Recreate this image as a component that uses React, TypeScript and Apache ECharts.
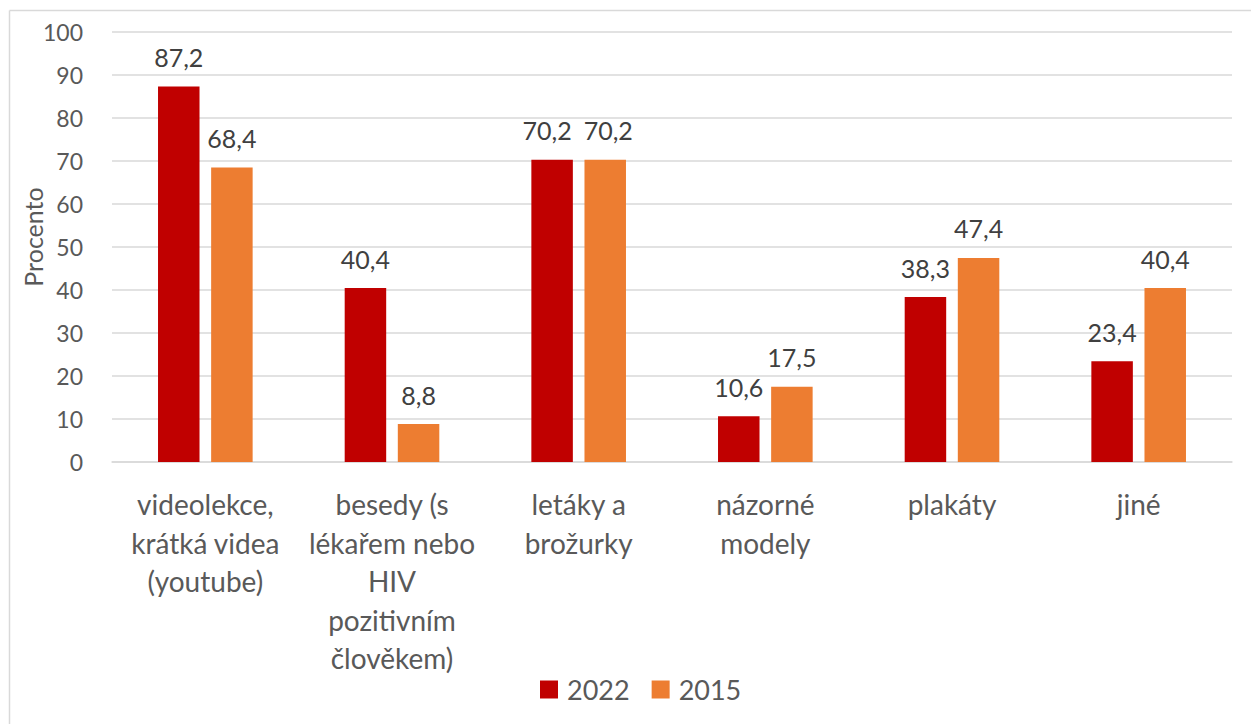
import React, { useEffect, useRef } from "react";
import * as echarts from "echarts";

const categories = [
  "videolekce,\nkrátká videa\n(youtube)",
  "besedy (s\nlékařem nebo\nHIV\npozitivním\nčlověkem)",
  "letáky a\nbrožurky",
  "názorné\nmodely",
  "plakáty",
  "jiné",
];
const series2022 = [87.2, 40.4, 70.2, 10.6, 38.3, 23.4];
const series2015 = [68.4, 8.8, 70.2, 17.5, 47.4, 40.4];
const seriesNames = ["2022", "2015"];
const yTicks = { min: 0, max: 100, interval: 10 };
const yAxisTitle = "Procento";

const FONT = "Lato, 'Open Sans', sans-serif";

export default function App() {
  const ref = useRef<HTMLDivElement>(null);
  useEffect(() => {
    if (!ref.current) return;
    const chart = echarts.init(ref.current, undefined, { renderer: "svg" });
    const labelFmt = (p: any) => String(p.value).replace(".", ",");
    // nudge labels apart where two equal bars sit side by side (as the original does)
    const withNudge = (vals: number[], other: number[], dx: number) =>
      vals.map((v, i) =>
        Math.abs(v - other[i]) < 3 ? { value: v, label: { offset: [dx, 0] } } : v
      );
    const labelStyle = {
      show: true,
      position: "top",
      distance: 17,
      formatter: labelFmt,
      color: "#404040",
      fontSize: 25,
      fontFamily: FONT,
    };
    chart.setOption({
      animation: false,
      backgroundColor: "#ffffff",
      textStyle: { fontFamily: FONT },
      grid: { left: 112, right: 19, top: 31.5, bottom: 262, containLabel: false },
      graphic: [
        { type: "line", shape: { x1: 9.5, y1: 10.5, x2: 1251, y2: 10.5 }, style: { stroke: "#d9d9d9", lineWidth: 1.5 } },
        { type: "line", shape: { x1: 9.5, y1: 10.5, x2: 9.5, y2: 724 }, style: { stroke: "#d9d9d9", lineWidth: 1.5 } },
        {
          type: "text",
          x: 33,
          y: 237,
          rotation: Math.PI / 2,
          style: {
            text: yAxisTitle,
            font: "25px Lato, 'Open Sans', sans-serif",
            fill: "#595959",
            textAlign: "center",
            textVerticalAlign: "middle",
          },
        },
      ],
      legend: {
        data: seriesNames,
        bottom: 16,
        left: 535,
        itemWidth: 18,
        itemHeight: 18,
        itemGap: 22,
        icon: "rect",
        textStyle: { fontSize: 27, color: "#595959", fontFamily: FONT, padding: [0, 0, 0, 4] },
      },
      xAxis: {
        type: "category",
        data: categories,
        axisLine: { lineStyle: { color: "#d9d9d9", width: 1.5 } },
        axisTick: { show: false },
        axisLabel: {
          color: "#595959",
          fontSize: 28,
          lineHeight: 38.5,
          margin: 23,
          interval: 0,
          fontFamily: FONT,
        },
      },
      yAxis: {
        type: "value",
        min: yTicks.min,
        max: yTicks.max,
        interval: yTicks.interval,
        axisLine: { show: false },
        axisTick: { show: false },
        splitLine: { lineStyle: { color: "#d9d9d9", width: 1.5 } },
        axisLabel: { color: "#595959", fontSize: 23, margin: 29, fontFamily: FONT },
      },
      series: [
        {
          name: seriesNames[0],
          type: "bar",
          data: withNudge(series2022, series2015, -5),
          barWidth: 41.5,
          barGap: "28%",
          itemStyle: { color: "#C00000" },
          label: labelStyle,
        },
        {
          name: seriesNames[1],
          type: "bar",
          data: withNudge(series2015, series2022, 3),
          barWidth: 41.5,
          barGap: "28%",
          itemStyle: { color: "#ED7D31" },
          label: labelStyle,
        },
      ],
    });
    return () => chart.dispose();
  }, []);
  return (
    <div
      ref={ref}
      style={{ position: "fixed", left: 0, top: 0, width: 1251, height: 724 }}
    />
  );
}
